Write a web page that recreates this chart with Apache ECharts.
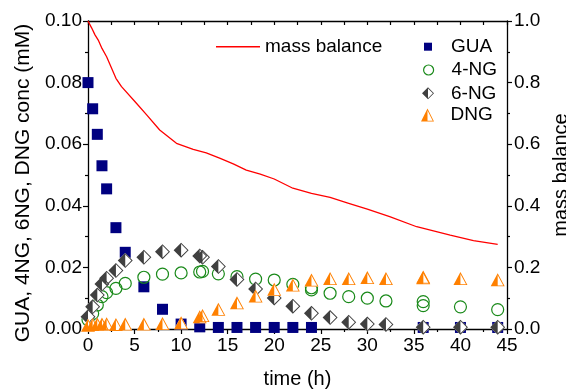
<!DOCTYPE html>
<html>
<head>
<meta charset="utf-8">
<script src="https://cdn.jsdelivr.net/npm/echarts@6/dist/echarts.min.js"></script>
<style>
html,body{margin:0;padding:0;background:#fff;}
#chart{width:566px;height:390px;}
</style>
</head>
<body>
<div id="chart"></div>
<script>
// ---- data ----
var times = [0,0.5,1,1.5,2,3,4,6,8,10,12,12.3,14,16,18,20,22,24,24,26,28,30,32,36,36,40,44];
var guaVals = [0.080,0.0715,0.0632,0.053,0.0455,0.0329,0.0249,0.0137,0.0064,0.0016,0.0007,null,0.0005,0.0005,0.0005,0.0005,0.0005,0.0005,null,null,null,null,null,0.0005,null,0.0005,0.0005];
var ng4Vals = [0.003,0.005,0.0078,0.0105,0.0118,0.0132,0.0148,0.0168,0.0178,0.0182,0.0185,0.0187,0.0179,0.017,0.0162,0.0159,0.0145,0.0127,0.0134,0.0116,0.0105,0.010,0.0091,0.0089,0.0076,0.0072,0.0063];
var ng6Vals = [0.004,0.0072,0.011,0.0146,0.0165,0.019,0.0222,0.0233,0.0251,0.0256,0.0237,0.0233,0.0203,0.0161,0.013,0.0101,0.0074,0.0051,null,0.0037,0.0022,0.0016,0.0015,0.0006,null,0.0006,0.0006];
var dngVals = [0.0012,0.0015,0.0016,0.0016,0.0017,0.0015,0.0016,0.0016,0.0018,0.002,0.004,0.0044,0.0064,0.0085,0.0107,0.0129,0.0143,0.0159,null,0.0164,0.0164,0.0167,0.0164,0.0169,0.0166,0.0164,0.016];
var mbTimes = [0,0.4,0.75,1.1,1.5,2,3,3.6,5.2,6.3,7.7,9.5,11.3,12.7,14.2,15.6,17,18.5,20,22,24,26,28,30,32.4,35.3,38.9,41.4,44];
var mbVals = [1.0,0.977,0.955,0.938,0.911,0.884,0.814,0.787,0.733,0.695,0.646,0.603,0.583,0.572,0.554,0.536,0.516,0.503,0.487,0.457,0.44,0.427,0.408,0.389,0.365,0.332,0.305,0.287,0.275];
var seriesNames = ['mass balance','GUA','4-NG','6-NG','DNG'];

// ---- helpers ----
function pairs(vals){
  var out=[];
  for(var i=0;i<times.length;i++){ if(vals[i]!==null){ out.push([times[i], vals[i]]); } }
  return out;
}
function linePairs(ts, vs){ return ts.map(function(t,i){return [t, vs[i]];}); }

var FONT = '"Liberation Sans", Arial, Helvetica, sans-serif';
var diamondHalf = 'path://M50,0L100,50L50,100L0,50Z M50,9L9,50L50,91L91,50Z M50,0L50,100L0,50Z';
var triHalf = 'path://M50,0L100,100L0,100Z M50,16L10,94L90,94Z M50,0L50,100L0,100Z';
var C_GUA = '#000080', C_4NG = '#1a8a1a', C_6NG = '#404040', C_DNG = '#ff8000', C_MB = '#ff0000';

var chart = echarts.init(document.getElementById('chart'), null, {renderer:'canvas'});

function mkLegend(name, left, cy, w, h, icon, itemStyle, textX){
  var o = {
    data:[name], left:left, top:cy-11, itemWidth:w, itemHeight:h,
    selectedMode:false,
    textStyle:{fontSize:19, fontFamily:FONT, color:'#000', lineHeight:22,
      padding:[0,0,0, Math.max(0, textX - (left + w + 10))]}
  };
  if(icon) o.icon = icon;
  if(itemStyle) o.itemStyle = itemStyle;
  return o;
}

var axisLineStyle = {color:'#000', width:1.3};
var option = {
  backgroundColor:'#fff',
  animation:false,
  textStyle:{fontFamily:FONT},
  grid:{left:88, right:59, top:21, bottom:61, containLabel:false, outerBoundsMode:'none'},
  legend:[
    mkLegend(seriesNames[0], 211, 41.7, 44, 1.5, 'rect', {color:C_MB, borderWidth:0}, 263),
    mkLegend(seriesNames[1], 419, 41.7, 8, 8, 'rect', {color:C_GUA, borderWidth:0}, 451),
    mkLegend(seriesNames[2], 418, 65, 10, 10, 'circle', {color:'transparent', borderColor:C_4NG, borderWidth:1.2}, 451),
    mkLegend(seriesNames[3], 417, 88.3, 12, 13, diamondHalf, {color:C_6NG, borderWidth:0}, 451),
    mkLegend(seriesNames[4], 416, 110, 14, 13, triHalf, {color:C_DNG, borderWidth:0}, 451)
  ],
  xAxis:[
    {type:'value', min:0, max:45, interval:5, position:'bottom',
     axisLine:{show:true, onZero:false, lineStyle:axisLineStyle},
     axisTick:{show:true, inside:false, length:5, lineStyle:{color:'#000', width:1.2}},
     minorTick:{show:true, splitNumber:2, length:3, lineStyle:{color:'#000', width:1.2}},
     splitLine:{show:false},
     axisLabel:{fontSize:19, color:'#000', margin:7, fontFamily:FONT},
     name:'time (h)', nameLocation:'middle', nameGap:40,
     nameTextStyle:{fontSize:20, color:'#000', fontFamily:FONT}},
    {type:'value', min:0, max:45, interval:2.5, position:'top',
     axisLine:{show:true, onZero:false, lineStyle:axisLineStyle},
     axisTick:{show:true, inside:true, length:4, lineStyle:{color:'#000', width:1.2}},
     axisLabel:{show:false}, splitLine:{show:false}}
  ],
  yAxis:[
    {type:'value', min:0, max:0.1, interval:0.02, position:'left',
     axisLine:{show:true, onZero:false, lineStyle:axisLineStyle},
     axisTick:{show:true, inside:false, length:5, lineStyle:{color:'#000', width:1.2}},
     minorTick:{show:true, splitNumber:2, length:3, lineStyle:{color:'#000', width:1.2}},
     splitLine:{show:false},
     axisLabel:{fontSize:19, color:'#000', margin:6, fontFamily:FONT,
       formatter:function(v){return v.toFixed(2);}},
     name:'GUA, 4NG, 6NG, DNG conc (mM)', nameLocation:'middle', nameGap:51,
     nameTextStyle:{fontSize:21, color:'#000', fontFamily:FONT, padding:[0,16,0,0]}},
    {type:'value', min:0, max:1, interval:0.2, position:'right',
     axisLine:{show:true, onZero:false, lineStyle:axisLineStyle},
     axisTick:{show:true, inside:false, length:5, lineStyle:{color:'#000', width:1.2}},
     minorTick:{show:true, splitNumber:2, length:3, lineStyle:{color:'#000', width:1.2}},
     splitLine:{show:false},
     axisLabel:{fontSize:19, color:'#000', margin:7, fontFamily:FONT,
       formatter:function(v){return v.toFixed(1);}},
     name:'mass balance', nameLocation:'middle', nameGap:44,
     nameTextStyle:{fontSize:20, color:'#000', fontFamily:FONT}}
  ],
  series:[
    {name:seriesNames[0], type:'line', xAxisIndex:0, yAxisIndex:1, symbol:'none', showSymbol:false,
     data:linePairs(mbTimes, mbVals), lineStyle:{color:C_MB, width:1.3}, itemStyle:{color:C_MB}, silent:true},
    {name:seriesNames[1], type:'scatter', symbol:'rect', symbolSize:11, clip:true,
     data:pairs(guaVals), itemStyle:{color:C_GUA, opacity:1}, silent:true},
    {name:seriesNames[2], type:'scatter', symbol:'circle', symbolSize:12, clip:true,
     data:pairs(ng4Vals), itemStyle:{color:'transparent', borderColor:C_4NG, borderWidth:1.2, opacity:1}, silent:true},
    {name:'6-NG-bg', type:'scatter', symbol:'diamond', symbolSize:[15,15], clip:true,
     data:pairs(ng6Vals), itemStyle:{color:'#fff', opacity:1}, silent:true},
    {name:seriesNames[3], type:'scatter', symbol:diamondHalf, symbolSize:[15,15], clip:true,
     data:pairs(ng6Vals), itemStyle:{color:C_6NG, opacity:1}, silent:true},
    {name:'DNG-bg', type:'scatter', symbol:'triangle', symbolSize:[14,13], clip:true,
     data:pairs(dngVals), itemStyle:{color:'#fff', opacity:1}, silent:true},
    {name:seriesNames[4], type:'scatter', symbol:triHalf, symbolSize:[14,13], clip:true,
     data:pairs(dngVals), itemStyle:{color:C_DNG, opacity:1}, silent:true}
  ]
};
chart.setOption(option);
</script>
</body>
</html>
